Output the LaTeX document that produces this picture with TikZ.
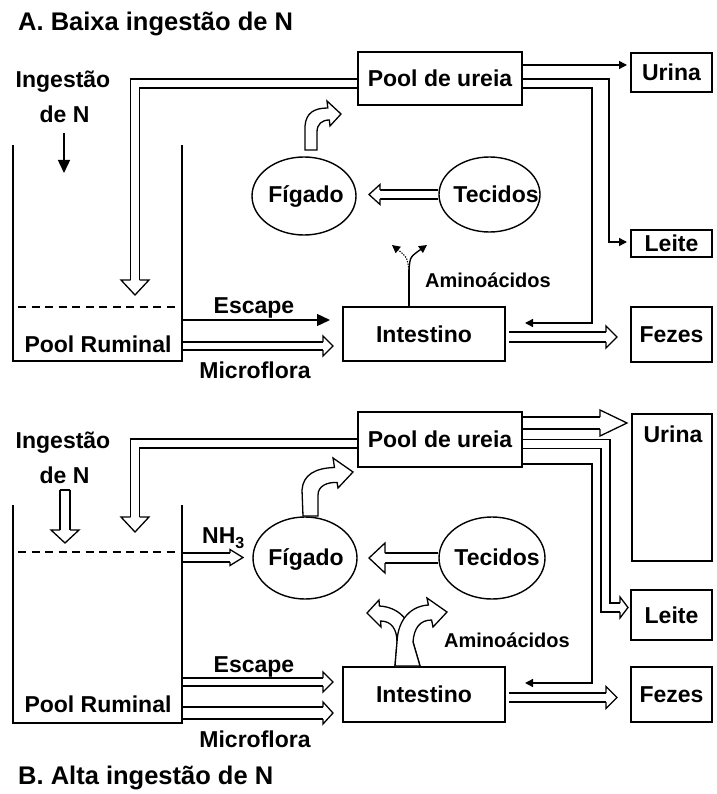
\documentclass[tikz,border=0pt]{standalone}
\usepackage{fontspec}
\setmainfont{Liberation Sans}
\usetikzlibrary{arrows.meta,calc,shapes.geometric}
\pgfdeclarelayer{bg}
\pgfsetlayers{bg,main}
\tikzset{
  box/.style={draw, line width=1.5pt, rectangle, inner sep=0pt, font=\fontsize{23}{27}\selectfont\bfseries, text height=16.5pt, text depth=0pt},
  ell/.style={draw, line width=1.4pt, ellipse, inner sep=0pt},
  txt/.style={inner sep=0pt, font=\fontsize{23}{27}\selectfont\bfseries, anchor=base},
  smtxt/.style={inner sep=0pt, font=\fontsize{20}{24}\selectfont\bfseries, anchor=base},
  ttl/.style={inner sep=0pt, font=\fontsize{25.5}{30}\selectfont\bfseries, anchor=base west},
  conn/.style={line width=1.4pt},
  bigtip/.style={-{Triangle[length=13pt,width=12pt]}},
  smtip/.style={-{Triangle[length=8pt,width=8pt]}},
  dline/.style={draw, line width=1.3pt, double, double distance=#1},
  hhead/.style={line width=1.3pt, fill=white, line join=miter},
  wall/.style={line width=1.4pt},
  dashline/.style={line width=1.4pt, dash pattern=on 8pt off 5.5pt},
  dotline/.style={line width=1.1pt, dash pattern=on 1.3pt off 1.3pt},
}
% #1 path prefix, #2 last corner, #3 tip, #4 line offset, #5 head half width, #6 head length
\newcommand\hollowarrow[6]{%
  \path ($(#3)!#6pt!(#2)$) coordinate (hb);
  \draw[dline={2*#4pt-1.3pt}] #1 (#2) -- (hb);
  \filldraw[hhead] ($(hb)!#4pt!90:(#3)$) -- ($(hb)!#5pt!90:(#3)$) -- (#3) -- ($(hb)!#5pt!-90:(#3)$) -- ($(hb)!#4pt!-90:(#3)$);
}
\begin{document}
\begin{tikzpicture}[x=1pt,y=-1pt]
\useasboundingbox (0,0) rectangle (716,794);
% ================= Panel A =================
\node[ttl] (titA) at (18,31) {A. Baixa ingestão de N};
\node[box, minimum width=164pt, minimum height=53pt] (ureiaA) at (440,78.5) {Pool de ureia};
\node[box, minimum width=81pt, minimum height=39pt] (urinaA) at (671.5,72.5) {Urina};
\node[box, minimum width=81pt, minimum height=27pt] (leiteA) at (671.5,243.5) {Leite};
\node[box, minimum width=162pt, minimum height=54pt] (intA) at (424,334) {Intestino};
\node[box, minimum width=81pt, minimum height=55pt] (fezesA) at (671.5,334.5) {Fezes};
\node[ell, minimum width=104pt, minimum height=78pt] (figA) at (304,196) {};
\node[txt] (figAt) at (306,203) {Fígado};
\node[ell, minimum width=101pt, minimum height=75pt] (tecA) at (489.5,194.5) {};
\node[txt] (tecAt) at (496,203) {Tecidos};
\node[txt] (ingA1) at (63,88) {Ingestão};
\node[txt] (ingA2) at (64.5,123) {de N};
\node[txt] (prA) at (98,352) {Pool Ruminal};
\node[txt] (escAl) at (254,313.5) {Escape};
\node[txt] (mfAl) at (255,378) {Microflora};
\node[smtxt] (aaAl) at (488,287) {Aminoácidos};
\draw[wall] (13,145) -- (13,361) -- (182,361) -- (182,145);
\draw[dashline] (18,307) -- (176,307);
\filldraw[hhead] (305,150) -- (305,126) .. controls (306,113) and (314,108) .. (327.8,108) -- (327,101) -- (341,114) -- (330,126) -- (329.3,120) .. controls (322,120) and (317,124) .. (317,132) -- (317,150) -- cycle;
\begin{pgfonlayer}{bg}
\coordinate (ingAa) at (64,133); \coordinate (ingAb) at (64,173);
\draw[conn,bigtip] (ingAa) -- (ingAb);
\coordinate (uA0) at (ureiaA.west |- 0,83.5);
\coordinate (uA1) at (135,83.5); \coordinate (uAt) at (135,295);
\hollowarrow{(uA0) --}{uA1}{uAt}{4.5}{14}{15}
\coordinate (tfAt) at (369,194.5);
\hollowarrow{}{tecA.west}{tfAt}{4.5}{10}{11}
\coordinate (escA0) at (182,320); \coordinate (escA1) at (330,320);
\draw[conn,bigtip] (escA0) -- (escA1);
\coordinate (mfA0) at (182,346); \coordinate (mfA1) at (333,346);
\hollowarrow{}{mfA0}{mfA1}{4}{10}{10}
\coordinate (fzA0) at (509,337); \coordinate (fzA1) at (617,337);
\hollowarrow{}{fzA0}{fzA1}{5}{11}{11}
\coordinate (urA1) at (627,65);
\draw[conn,smtip] (ureiaA.east |- urA1) -- (urA1);
\coordinate (lA1) at (609,79); \coordinate (lA2) at (627,242);
\draw[conn,smtip] (ureiaA.east |- lA1) -- (lA1) |- (lA2);
\coordinate (iA1) at (592,88); \coordinate (iA2) at (525,323);
\draw[conn,smtip] (ureiaA.east |- iA1) -- (iA1) |- (iA2);
\coordinate (aaA1) at (409,270); \coordinate (aaAR) at (427,245); \coordinate (aaAL) at (392,245);
\draw[conn] (intA.north -| aaA1) -- (aaA1);
\draw[conn,smtip] (aaA1) .. controls (410,257) .. (aaAR);
\draw[dotline,smtip] (aaA1) .. controls (407,257) .. (aaAL);
\end{pgfonlayer}
% ================= Panel B =================
\node[ttl] (titB) at (18,784) {B. Alta ingestão de N};
\node[box, minimum width=164pt, minimum height=55pt] (ureiaB) at (440,439.5) {Pool de ureia};
\node[box, minimum width=80pt, minimum height=147pt] (urinaB) at (672,487.5) {};
\node[txt] (urinaBt) at (673,442) {Urina};
\node[box, minimum width=81pt, minimum height=50pt] (leiteB) at (671.5,615) {Leite};
\node[box, minimum width=162pt, minimum height=55pt] (intB) at (424,694.5) {Intestino};
\node[box, minimum width=81pt, minimum height=55pt] (fezesB) at (671.5,694.5) {Fezes};
\node[ell, minimum width=104pt, minimum height=82pt] (figB) at (305,558) {};
\node[txt] (figBt) at (306,565) {Fígado};
\node[ell, minimum width=106pt, minimum height=82pt] (tecB) at (492,558) {};
\node[txt] (tecBt) at (497,565) {Tecidos};
\node[txt] (ingB1) at (63,448) {Ingestão};
\node[txt] (ingB2) at (64.5,483) {de N};
\node[txt] (prB) at (98,712) {Pool Ruminal};
\node[txt] (escBl) at (254,672) {Escape};
\node[txt] (mfBl) at (255,747) {Microflora};
\node[smtxt] (aaBl) at (507,647) {Aminoácidos};
\node[txt, anchor=base west] (nh3) at (202,543) {NH\raisebox{-5pt}{\fontsize{16}{16}\selectfont 3}};
\draw[wall] (13,505) -- (13,723) -- (182,723) -- (182,505);
\draw[dashline] (18,552) -- (176,552);
\filldraw[hhead] (303,516) -- (302,490) .. controls (303,475) and (315,468) .. (334.5,467.5) -- (333,458) -- (353,472) -- (338,488) -- (337.1,482.5) .. controls (327,482) and (318,486) .. (318,495) -- (318,516) -- cycle;
\filldraw[hhead] (420,666) -- (413,642) .. controls (412,620) and (398,607) .. (379.4,606) -- (379,600) -- (367,613) -- (381,627) -- (380.6,621) .. controls (392,621) and (397,630) .. (397,642) -- (395,666) -- cycle;
\filldraw[hhead] (395,666) -- (397,642) .. controls (398,618) and (412,606) .. (428.4,605) -- (427,598) -- (447,612) -- (433,627) -- (431.6,620) .. controls (420,620) and (414,628) .. (413,642) -- (420,666) -- cycle;
\begin{pgfonlayer}{bg}
\coordinate (ingBa) at (65,490); \coordinate (ingBb) at (65,543);
\hollowarrow{}{ingBa}{ingBb}{5}{14}{13}
\draw[line width=1.3pt, line cap=square] ($(ingBa)+(-5,0)$) -- ($(ingBa)+(5,0)$);
\coordinate (uB0) at (ureiaB.west |- 0,443.5);
\coordinate (uB1) at (135,443.5); \coordinate (uBt) at (135,532);
\hollowarrow{(uB0) --}{uB1}{uBt}{4.5}{14}{15}
\coordinate (nh0) at (182,557.5); \coordinate (nh1) at (243,557.5);
\hollowarrow{}{nh0}{nh1}{4.5}{8}{13}
\coordinate (tfBt) at (369,558);
\hollowarrow{}{tecB.west}{tfBt}{5}{15}{16}
\coordinate (urB1) at (627,423);
\coordinate (urB0) at (ureiaB.east |- urB1);
\hollowarrow{}{urB0}{urB1}{6}{13}{27}
\coordinate (lB0) at (ureiaB.east |- 0,444); \coordinate (lB1) at (605.5,444);
\coordinate (lB2) at (605.5,607.5); \coordinate (lBt) at (628,607.5);
\hollowarrow{(lB0) -- (lB1) --}{lB2}{lBt}{4.5}{10.5}{8}
\coordinate (iB1) at (592,464); \coordinate (iB2) at (525,683);
\draw[conn,smtip] (ureiaB.east |- iB1) -- (iB1) |- (iB2);
\coordinate (escB0) at (182,682); \coordinate (escB1) at (333,682);
\hollowarrow{}{escB0}{escB1}{4}{10}{10}
\coordinate (mfB0) at (182,713); \coordinate (mfB1) at (333,713);
\hollowarrow{}{mfB0}{mfB1}{6}{11}{10}
\coordinate (fzB0) at (509,697.5); \coordinate (fzB1) at (617,697.5);
\hollowarrow{}{fzB0}{fzB1}{4.5}{11}{11}
\end{pgfonlayer}
\end{tikzpicture}
\end{document}
